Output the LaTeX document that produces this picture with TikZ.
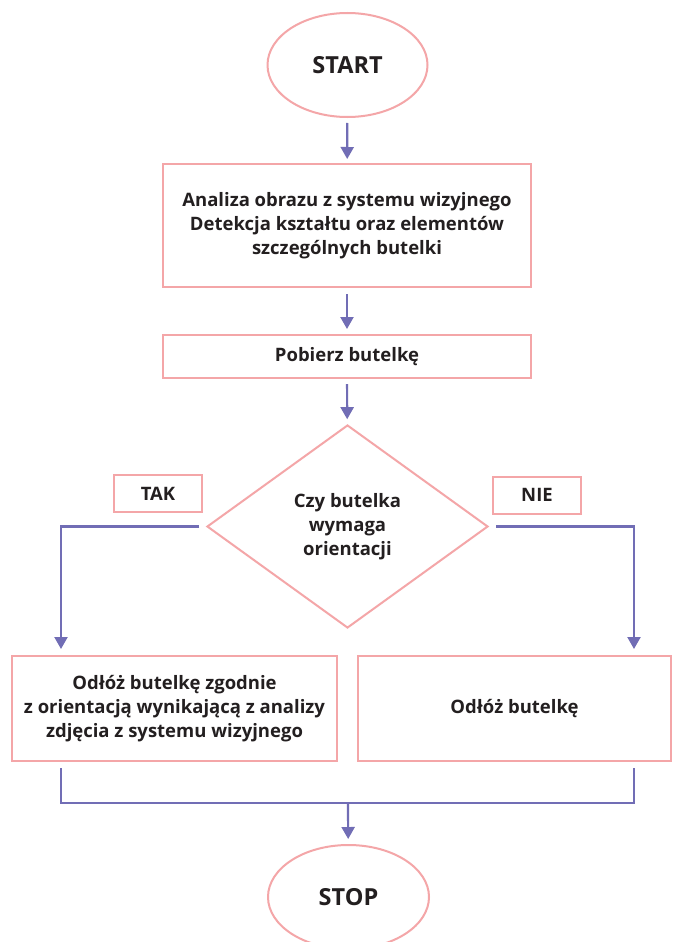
\documentclass[tikz,border=0pt]{standalone}
\usepackage{fontspec}
\setmainfont{Open Sans}
\usetikzlibrary{shapes.geometric,arrows.meta,calc}
\definecolor{pinkline}{HTML}{F4A6A8}
\definecolor{flowline}{HTML}{716DB5}
\definecolor{txt}{HTML}{231F20}
\tikzset{
  base/.style={draw=pinkline, line width=2pt, text=txt, font=\fontsize{18.5}{24}\selectfont\bfseries, align=center, inner sep=0pt},
  boxnode/.style={base, rectangle},
  term/.style={base, ellipse, font=\fontsize{23.5}{28}\selectfont\bfseries},
  decision/.style={base, diamond},
  conn/.style={draw=flowline, line width=2.2pt, -{Triangle[width=13pt,length=12pt]}},
  plainconn/.style={draw=flowline, line width=2.2pt}
}
\begin{document}
\begin{tikzpicture}[x=1pt,y=-1pt]
\fill[white] (0,0) rectangle (673,942);
\useasboundingbox (0,0) rectangle (673,942);
\node[term, minimum width=160pt, minimum height=104pt] (start) at (347.5,65) {START};
\node[boxnode, minimum width=368pt, minimum height=123pt] (analiza) at (347,225.5) {Analiza obrazu z systemu wizyjnego\\Detekcja kształtu oraz elementów\\szczególnych butelki};
\node[boxnode, minimum width=368pt, minimum height=43pt] (pobierz) at (347,356.5) {Pobierz butelkę};
\node[decision, minimum width=281pt, minimum height=203pt] (dec) at (347.5,526.5) {Czy butelka\\wymaga\\orientacji};
\node[boxnode, minimum width=88pt, minimum height=37pt] (tak) at (158,493.5) {TAK};
\node[boxnode, minimum width=88pt, minimum height=37pt] (nie) at (537,495) {NIE};
\node[boxnode, minimum width=325pt, minimum height=105pt] (yes) at (174.5,708.5) {Odłóż butelkę zgodnie\\z orientacją wynikającą z analizy\\zdjęcia z systemu wizyjnego};
\node[boxnode, minimum width=313pt, minimum height=105pt] (no) at (514.5,708.5) {Odłóż butelkę};
\node[term, minimum width=161pt, minimum height=104pt] (stop) at (348.5,897) {STOP};
\coordinate (lx) at (61,0);
\coordinate (rx) at (634,0);
\coordinate (join) at (348,803);
\draw[conn, shorten <=5pt, shorten >=4pt] (start) -- (analiza);
\draw[conn, shorten <=6pt, shorten >=5pt] (analiza) -- (pobierz);
\draw[conn, shorten <=5pt, shorten >=5pt] (pobierz) -- (dec);
\draw[conn, shorten >=6pt] ([xshift=-7pt]dec.west) -| (lx |- yes.north);
\draw[conn, shorten >=6pt] ([xshift=7pt]dec.east) -| (rx |- no.north);
\draw[plainconn] ($(lx |- yes.south)+(0,6)$) -- (lx |- join) -- (rx |- join) -- ($(rx |- no.south)+(0,6)$);
\draw[conn, shorten >=5pt] (join) -- (stop);
\end{tikzpicture}
\end{document}
